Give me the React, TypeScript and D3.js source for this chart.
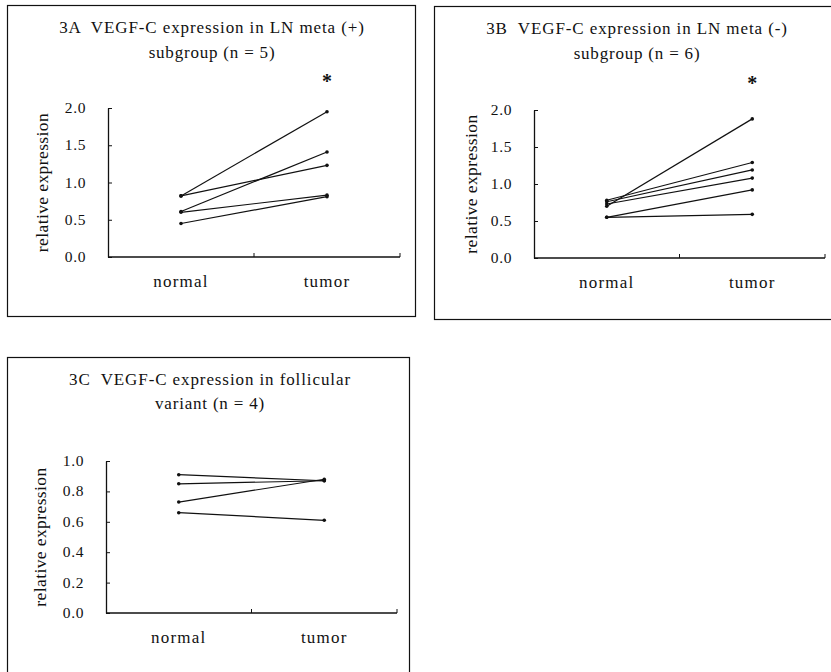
import React, { useRef, useEffect } from "react";
import * as d3 from "d3";

// values
const categories = ["normal", "tumor"];

const metaPosNormal = [0.82, 0.82, 0.61, 0.6, 0.45];
const metaPosTumor = [1.95, 1.23, 1.41, 0.83, 0.81];

const metaNegNormal = [0.7, 0.78, 0.76, 0.73, 0.55, 0.55];
const metaNegTumor = [1.88, 1.29, 1.19, 1.08, 0.92, 0.59];

const follicularNormal = [0.91, 0.85, 0.73, 0.66];
const follicularTumor = [0.87, 0.87, 0.88, 0.61];

const ticksLarge = [0, 0.5, 1.0, 1.5, 2.0];
const ticksSmall = [0, 0.2, 0.4, 0.6, 0.8, 1.0];

const FONT = "Liberation Serif";

type PanelProps = {
  box: { x: number; y: number; w: number; h: number };
  plot: { left: number; right: number; top: number; bottom: number };
  title: string[];
  titleX: number;
  titleY: number[];
  yMax: number;
  ticks: number[];
  normal: number[];
  tumor: number[];
  star: boolean;
  yLabelX: number;
  catY: number;
};

const Panel = (p: PanelProps) => {
  const ref = useRef<SVGGElement>(null);

  useEffect(() => {
    const g = d3.select(ref.current);
    g.selectAll("*").remove();

    // frame
    g.append("rect")
      .attr("x", p.box.x + 0.5)
      .attr("y", p.box.y + 0.5)
      .attr("width", p.box.w)
      .attr("height", p.box.h)
      .attr("fill", "white")
      .attr("stroke", "#111")
      .attr("stroke-width", 1.2);

    const x = d3
      .scaleBand()
      .domain(categories)
      .range([p.plot.left, p.plot.right]);

    const y = d3
      .scaleLinear()
      .domain([0, p.yMax])
      .range([p.plot.bottom, p.plot.top]);

    // title
    p.title.forEach((t, i) => {
      g.append("text")
        .attr("x", p.titleX)
        .attr("y", p.titleY[i])
        .attr("text-anchor", "middle")
        .attr("font-family", FONT)
        .attr("font-size", 17)
        .attr("letter-spacing", i === 0 ? 0.9 : 0.8)
        .attr("fill", "#111")
        .style("white-space", "pre")
        .text(t);
    });

    // y axis, ticks point inward
    const yAxis = g
      .append("g")
      .attr("transform", `translate(${p.plot.left},0)`)
      .call(
        d3
          .axisRight(y)
          .tickValues(p.ticks)
          .tickSize(4)
          .tickSizeOuter(0)
          .tickFormat(() => "")
      );
    yAxis.select(".domain").attr("stroke", "#111").attr("stroke-width", 1.3);
    yAxis.selectAll(".tick line").attr("stroke", "#111");

    g.append("g")
      .selectAll("text")
      .data(p.ticks)
      .join("text")
      .attr("x", p.plot.left - 22)
      .attr("y", (d) => y(d) + 5)
      .attr("text-anchor", "end")
      .attr("font-family", FONT)
      .attr("font-size", 15.5)
      .attr("letter-spacing", 0.6)
      .attr("fill", "#111")
      .text((d) => d3.format(".1f")(d));

    // x axis
    const xAxis = g
      .append("g")
      .attr("transform", `translate(0,${p.plot.bottom})`);
    xAxis
      .append("line")
      .attr("x1", p.plot.left)
      .attr("x2", p.plot.right)
      .attr("stroke", "#111")
      .attr("stroke-width", 1.3);
    xAxis
      .selectAll("line.tk")
      .data([p.plot.left + x.step(), p.plot.right])
      .join("line")
      .attr("class", "tk")
      .attr("x1", (d) => d)
      .attr("x2", (d) => d)
      .attr("y1", 0)
      .attr("y2", -4)
      .attr("stroke", "#111");

    g.append("g")
      .selectAll("text")
      .data(categories)
      .join("text")
      .attr("x", (d) => x(d)! + x.bandwidth() / 2)
      .attr("y", p.catY)
      .attr("text-anchor", "middle")
      .attr("font-family", FONT)
      .attr("font-size", 17)
      .attr("letter-spacing", 1.2)
      .attr("fill", "#111")
      .text((d) => d);

    // y label
    g.append("text")
      .attr(
        "transform",
        `translate(${p.yLabelX},${(p.plot.top + p.plot.bottom) / 2}) rotate(-90)`
      )
      .attr("text-anchor", "middle")
      .attr("font-family", FONT)
      .attr("font-size", 17.5)
      .attr("letter-spacing", 0.4)
      .attr("fill", "#111")
      .text("relative expression");

    // paired lines
    const cx0 = x("normal")! + x.bandwidth() / 2;
    const cx1 = x("tumor")! + x.bandwidth() / 2;
    const pairs = p.normal.map((v, i) => [v, p.tumor[i]]);
    const line = d3
      .line<number>()
      .x((_, i) => (i === 0 ? cx0 : cx1))
      .y((d) => y(d));

    g.append("g")
      .selectAll("path")
      .data(pairs)
      .join("path")
      .attr("d", (d) => line(d))
      .attr("fill", "none")
      .attr("stroke", "#111")
      .attr("stroke-width", 1.2);

    const pts = pairs.flatMap((d) => [
      { cx: cx0, v: d[0] },
      { cx: cx1, v: d[1] },
    ]);
    g.append("g")
      .selectAll("circle")
      .data(pts)
      .join("circle")
      .attr("cx", (d) => d.cx)
      .attr("cy", (d) => y(d.v))
      .attr("r", 1.8)
      .attr("fill", "#111");

    if (p.star) {
      g.append("text")
        .attr("x", cx1)
        .attr("y", p.plot.top - 20)
        .attr("text-anchor", "middle")
        .attr("font-family", FONT)
        .attr("font-weight", "bold")
        .attr("font-size", 20)
        .attr("fill", "#111")
        .text("*");
    }
  }, [p]);

  return <g ref={ref}></g>;
};

export default function App() {
  return (
    <svg
      width={831}
      height={672}
      style={{ position: "absolute", left: 0, top: 0, background: "white" }}
    >
      <Panel
        box={{ x: 7, y: 5, w: 408, h: 311 }}
        plot={{ left: 108, right: 400, top: 108, bottom: 257 }}
        title={["3A  VEGF-C expression in LN meta (+)", "subgroup (n = 5)"]}
        titleX={212}
        titleY={[33, 58]}
        yMax={2}
        ticks={ticksLarge}
        normal={metaPosNormal}
        tumor={metaPosTumor}
        star={true}
        yLabelX={48}
        catY={287}
      />
      <Panel
        box={{ x: 434, y: 6, w: 420, h: 313 }}
        plot={{ left: 534, right: 825, top: 110, bottom: 258 }}
        title={["3B  VEGF-C expression in LN meta (-)", "subgroup (n = 6)"]}
        titleX={637}
        titleY={[34, 59]}
        yMax={2}
        ticks={ticksLarge}
        normal={metaNegNormal}
        tumor={metaNegTumor}
        star={true}
        yLabelX={477}
        catY={288}
      />
      <Panel
        box={{ x: 7, y: 357, w: 402, h: 330 }}
        plot={{ left: 106, right: 397, top: 461, bottom: 613 }}
        title={["3C  VEGF-C expression in follicular", "variant (n = 4)"]}
        titleX={210}
        titleY={[385, 409]}
        yMax={1}
        ticks={ticksSmall}
        normal={follicularNormal}
        tumor={follicularTumor}
        star={false}
        yLabelX={46}
        catY={643}
      />
    </svg>
  );
}
